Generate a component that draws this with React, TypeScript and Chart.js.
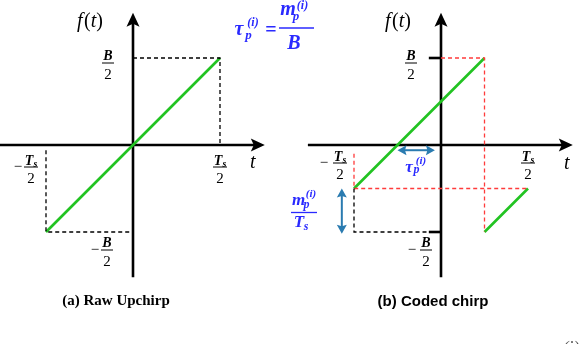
import React, { useEffect, useRef } from "react";
import { Chart, registerables } from "chart.js";

Chart.register(...registerables);

// ---- data (t in units of Ts/2, f in units of B/2) ----
const rawT = [-1, 1];
const rawF = [-1, 1];
const codedT1 = [-1, 0.5];
const codedF1 = [-0.5, 1];
const codedT2 = [0.5, 1];
const codedF2 = [-1, -0.5];

const rawGuideTopT = [0, 1, 1];
const rawGuideTopF = [1, 1, 0];
const rawGuideBotT = [-1, -1, 0];
const rawGuideBotF = [-0.06, -1, -1];

const codedRedTopT = [0, 0.5, 0.5];
const codedRedTopF = [1, 1, -1];
const codedRedMidT = [-1, -1, 1];
const codedRedMidF = [-0.1, -0.5, -0.5];
const codedBlackT = [-1, -1, -0.14];
const codedBlackF = [-0.5, -1, -1];

const axisT = [-1.53, 1.515];
const axisF = [-1.52, 1.52];
const tickT = [-0.14, 0];
const tickF = [1, -1];

const tauArrowT = [-0.5, -0.07];
const tauArrowF = -0.06;
const mArrowT = -1.14;
const mArrowF = [-0.5, -1.02];

// ---- layout ----
const W = 582;
const H = 344;
const ORIGIN_L = 133;
const ORIGIN_R = 441;
const ORIGIN_Y = 145;
const UNIT = 87;

const GREEN = "#22c322";
const RED = "#ff3b3b";
const BLUE = "#2a2aff";
const TEAL = "#2a7bb0";
const DASH = [4, 3];

const pts = (ts: number[], fs: number[]) => ts.map((t, i) => ({ x: t, y: fs[i] }));

const serif = (px: number, style = "") => `${style} ${px}px "Liberation Serif"`.trim();

function txt(ctx: CanvasRenderingContext2D, s: string, x: number, y: number, font: string, color = "#000", align: CanvasTextAlign = "center") {
  ctx.font = font;
  ctx.fillStyle = color;
  ctx.textAlign = align;
  ctx.textBaseline = "alphabetic";
  ctx.fillText(s, x, y);
}

function seg(ctx: CanvasRenderingContext2D, x1: number, y1: number, x2: number, y2: number, w: number, color = "#000") {
  ctx.beginPath();
  ctx.strokeStyle = color;
  ctx.lineWidth = w;
  ctx.setLineDash([]);
  ctx.moveTo(x1, y1);
  ctx.lineTo(x2, y2);
  ctx.stroke();
}

function head(ctx: CanvasRenderingContext2D, tx: number, ty: number, dx: number, dy: number, len: number, hw: number, notch: number, color: string) {
  const bx = tx - dx * len, by = ty - dy * len;
  const px = -dy, py = dx;
  ctx.beginPath();
  ctx.fillStyle = color;
  ctx.moveTo(tx, ty);
  ctx.lineTo(bx + px * hw, by + py * hw);
  ctx.lineTo(tx - dx * (len - notch), ty - dy * (len - notch));
  ctx.lineTo(bx - px * hw, by - py * hw);
  ctx.closePath();
  ctx.fill();
}

function doubleArrow(ctx: CanvasRenderingContext2D, x1: number, y1: number, x2: number, y2: number) {
  const L = Math.hypot(x2 - x1, y2 - y1);
  const dx = (x2 - x1) / L, dy = (y2 - y1) / L;
  seg(ctx, x1 + dx * 6, y1 + dy * 6, x2 - dx * 6, y2 - dy * 6, 2, TEAL);
  head(ctx, x2, y2, dx, dy, 9, 5, 1.5, TEAL);
  head(ctx, x1, y1, -dx, -dy, 9, 5, 1.5, TEAL);
}

function bOver2(ctx: CanvasRenderingContext2D, cx: number, barY: number) {
  txt(ctx, "B", cx, barY - 3.5, serif(14, "italic bold"));
  seg(ctx, cx - 6, barY, cx + 6, barY, 1);
  txt(ctx, "2", cx, barY + 15.5, serif(15));
}

function tsOver2(ctx: CanvasRenderingContext2D, cx: number, barY: number) {
  txt(ctx, "T", cx - 2, barY - 2.5, serif(14, "italic bold"));
  txt(ctx, "s", cx + 4.5, barY - 0.5, serif(10, "italic bold"));
  seg(ctx, cx - 7, barY, cx + 7, barY, 1);
  txt(ctx, "2", cx, barY + 15.5, serif(15));
}

// f(t) with italic f and t, upright parentheses; cx = centre
function fOfT(ctx: CanvasRenderingContext2D, cx: number, base: number) {
  const parts: [string, string][] = [
    ["f", serif(20, "italic")],
    ["(", serif(20)],
    ["t", serif(20, "italic")],
    [")", serif(20)],
  ];
  let total = 0;
  const widths = parts.map(([s, f]) => {
    ctx.font = f;
    const w = ctx.measureText(s).width + (s === "f" ? 1.5 : 0);
    total += w;
    return w;
  });
  let x = cx - total / 2;
  parts.forEach(([s, f], i) => {
    txt(ctx, s, x, base, f, "#000", "left");
    x += widths[i];
  });
}

const diagramPlugin = {
  id: "chirpDiagram",
  beforeDatasetsDraw(chart: any) {
    const ctx: CanvasRenderingContext2D = chart.ctx;
    const y = chart.scales.y;
    ctx.save();
    for (const id of ["xL", "xR"]) {
      const x = chart.scales[id];
      const ox = x.getPixelForValue(0);
      const oy = y.getPixelForValue(0);
      const xs = x.getPixelForValue(axisT[0]);
      const xe = x.getPixelForValue(axisT[1]);
      seg(ctx, xs, oy, xe - 8, oy, 2.6);
      head(ctx, xe, oy, 1, 0, 14, 6.5, 3, "#000");
      const ys = y.getPixelForValue(axisF[0]);
      const ye = y.getPixelForValue(axisF[1]);
      seg(ctx, ox, ys, ox, ye + 8, 2.6);
      head(ctx, ox, ye, 0, -1, 14, 6.5, 3, "#000");
    }
    const xr = chart.scales.xR;
    for (const f of tickF) {
      const py = y.getPixelForValue(f);
      seg(ctx, xr.getPixelForValue(tickT[0]), py, xr.getPixelForValue(tickT[1]), py, 2.6);
    }
    ctx.restore();
  },
  afterDatasetsDraw(chart: any) {
    const ctx: CanvasRenderingContext2D = chart.ctx;
    const y = chart.scales.y;
    const xl = chart.scales.xL;
    const xr = chart.scales.xR;
    ctx.save();
    const oy = y.getPixelForValue(0);

    // ---- left panel labels ----
    let ax = xl.getPixelForValue(0);
    fOfT(ctx, ax - 43, 27);
    bOver2(ctx, ax - 25, y.getPixelForValue(1) + 5);
    txt(ctx, "\u2212", ax - 38, y.getPixelForValue(-1) + 22, serif(15));
    bOver2(ctx, ax - 26, y.getPixelForValue(-1) + 18);
    tsOver2(ctx, xl.getPixelForValue(1), oy + 22);
    txt(ctx, "\u2212", xl.getPixelForValue(-1) - 28, oy + 26, serif(15));
    tsOver2(ctx, xl.getPixelForValue(-1) - 15, oy + 22);
    txt(ctx, "t", xl.getPixelForValue(axisT[1]) - 12, oy + 23, serif(20, "italic"));
    txt(ctx, "(a) Raw Upchirp", ax - 17, 305, serif(15, "bold"));

    // ---- right panel labels ----
    ax = xr.getPixelForValue(0);
    fOfT(ctx, ax - 43, 27);
    bOver2(ctx, ax - 30, y.getPixelForValue(1) + 5);
    txt(ctx, "\u2212", ax - 29, y.getPixelForValue(-1) + 22, serif(15));
    bOver2(ctx, ax - 15, y.getPixelForValue(-1) + 18);
    tsOver2(ctx, xr.getPixelForValue(1), oy + 18);
    txt(ctx, "\u2212", xr.getPixelForValue(-1) - 30, oy + 22, serif(15));
    tsOver2(ctx, xr.getPixelForValue(-1) - 14, oy + 18);
    txt(ctx, "t", xr.getPixelForValue(axisT[1]) - 6, oy + 24, serif(20, "italic"));
    txt(ctx, "(b) Coded chirp", ax - 8, 306, `bold 15px "Liberation Sans"`);

    // arrows
    const ta = y.getPixelForValue(tauArrowF);
    doubleArrow(ctx, xr.getPixelForValue(tauArrowT[0]), ta, xr.getPixelForValue(tauArrowT[1]), ta);
    const mx = xr.getPixelForValue(mArrowT);
    doubleArrow(ctx, mx, y.getPixelForValue(mArrowF[0]), mx, y.getPixelForValue(mArrowF[1]));

    // tau label near arrow
    txt(ctx, "\u03C4", 409, 172, serif(17, "italic bold"), BLUE);
    txt(ctx, "p", 416.5, 173, serif(12, "italic bold"), BLUE);
    txt(ctx, "(i)", 421, 164, serif(11, "italic bold"), BLUE);

    // m/Ts label
    txt(ctx, "m", 298.5, 205, serif(17, "italic bold"), BLUE);
    txt(ctx, "p", 306.5, 208, serif(12, "italic bold"), BLUE);
    txt(ctx, "(i)", 311, 197, serif(11, "italic bold"), BLUE);
    seg(ctx, 291, 212.5, 317, 212.5, 1.3, BLUE);
    txt(ctx, "T", 299, 227, serif(17, "italic bold"), BLUE);
    txt(ctx, "s", 306, 229.5, serif(12, "italic bold"), BLUE);

    // formula
    txt(ctx, "\u03C4", 239, 35, serif(20, "italic bold"), BLUE);
    txt(ctx, "p", 248.5, 38.5, serif(13, "italic bold"), BLUE);
    txt(ctx, "(i)", 253, 26, serif(12, "italic bold"), BLUE);
    txt(ctx, "=", 271, 36, serif(20, "bold"), BLUE);
    txt(ctx, "m", 288, 15, serif(20, "italic bold"), BLUE);
    txt(ctx, "p", 296, 19.5, serif(13, "italic bold"), BLUE);
    txt(ctx, "(i)", 302.5, 9, serif(12, "italic bold"), BLUE);
    seg(ctx, 279, 28, 314, 28, 1.6, BLUE);
    txt(ctx, "B", 294, 49, serif(20, "italic bold"), BLUE);

    // clipped caption fragment at bottom right
    txt(ctx, "(i)", 571, 354, serif(18, "italic"), "#555");
    ctx.restore();
  },
};

function App() {
  const ref = useRef<HTMLCanvasElement | null>(null);
  useEffect(() => {
    if (!ref.current) return;
    const line = (data: any[], color: string, width: number, xAxisID: string, dash: number[] = []) => ({
      data,
      borderColor: color,
      borderWidth: width,
      borderDash: dash,
      showLine: true,
      pointRadius: 0,
      tension: 0,
      fill: false,
      xAxisID,
      yAxisID: "y",
    });
    const chart = new Chart(ref.current, {
      type: "scatter",
      data: {
        datasets: [
          line(pts(rawGuideTopT, rawGuideTopF), "#000", 1.3, "xL", DASH),
          line(pts(rawGuideBotT, rawGuideBotF), "#000", 1.3, "xL", DASH),
          line(pts(codedBlackT, codedBlackF), "#000", 1.3, "xR", DASH),
          line(pts(codedRedTopT, codedRedTopF), RED, 1.3, "xR", DASH),
          line(pts(codedRedMidT, codedRedMidF), RED, 1.3, "xR", DASH),
          line(pts(rawT, rawF), GREEN, 2.6, "xL"),
          line(pts(codedT1, codedF1), GREEN, 2.6, "xR"),
          line(pts(codedT2, codedF2), GREEN, 2.6, "xR"),
        ] as any,
      },
      options: {
        animation: false,
        responsive: false,
        devicePixelRatio: 1,
        layout: { padding: 0 },
        plugins: { legend: { display: false }, tooltip: { enabled: false } },
        events: [],
        scales: {
          xL: { type: "linear", axis: "x", display: false, min: -ORIGIN_L / UNIT, max: (W - ORIGIN_L) / UNIT },
          xR: { type: "linear", axis: "x", display: false, min: -ORIGIN_R / UNIT, max: (W - ORIGIN_R) / UNIT },
          y: { type: "linear", display: false, min: -(H - ORIGIN_Y) / UNIT, max: ORIGIN_Y / UNIT },
        } as any,
      },
      plugins: [diagramPlugin],
    });
    return () => chart.destroy();
  }, []);
  return (
    <div style={{ position: "absolute", left: 0, top: 0, width: W, height: H, background: "#fff" }}>
      <canvas ref={ref} width={W} height={H} style={{ width: W, height: H, display: "block" }} />
    </div>
  );
}

export default App;
